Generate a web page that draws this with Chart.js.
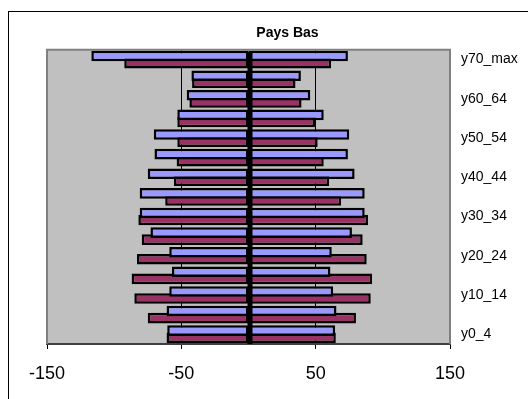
<!DOCTYPE html>
<html>
<head>
<meta charset="utf-8">
<script src="https://cdn.jsdelivr.net/npm/chart.js@4/dist/chart.umd.min.js"></script>
<style>
    html, body { margin: 0; padding: 0; background: #fff; overflow: hidden; }
    #frame { position: absolute; left: 8px; top: 11px; width: 540px; height: 400px; border: 1px solid #000; }
    #chart { position: absolute; left: 0; top: 0; }
</style>
</head>
<body>
<div id="frame"></div>
<canvas id="chart" width="528" height="399"></canvas>
<script>
    // --- Data (bottom to top: y0_4 ... y70_max) ---
    const ageGroups = ['y0_4', 'y5_9', 'y10_14', 'y15_19', 'y20_24', 'y25_29', 'y30_34', 'y35_39',
        'y40_44', 'y45_49', 'y50_54', 'y55_59', 'y60_64', 'y65_69', 'y70_max'];
    const blueLeft = [-60.5, -61, -59, -57, -59, -73, -81, -81, -75, -70, -70.5, -53, -46, -42.5, -117];
    const blueRight = [64.5, 65.5, 63, 61, 62, 77, 86.5, 86.5, 79, 74, 75, 56, 46, 39, 74];
    const maroonLeft = [-61, -75, -85, -87, -83, -79.5, -82, -62, -55.5, -53.5, -53, -53, -44, -42, -92.5];
    const maroonRight = [65, 80, 91, 92, 88, 85, 89, 69, 60, 56, 51.5, 49.5, 39.5, 35, 61.5];
    const xTicks = [-150, -50, 50, 150];

    const BLUE = '#9999FF';
    const MAROON = '#993366';

    // plot area background + frame, and the black line where the bars meet at 0
    const plotFrame = {
        id: 'plotFrame',
        beforeDraw(chart) {
            const { ctx, chartArea: a } = chart;
            ctx.save();
            ctx.fillStyle = '#C0C0C0';
            ctx.fillRect(a.left, a.top, a.right - a.left, a.bottom - a.top);
            ctx.restore();
        },
        afterDatasetsDraw(chart) {
            const { ctx, chartArea: a } = chart;
            const x0 = chart.scales.x.getPixelForValue(0);
            ctx.save();
            ctx.strokeStyle = '#000';
            ctx.lineWidth = 5;
            ctx.beginPath();
            ctx.moveTo(x0 + 1.5, a.top + 2);
            ctx.lineTo(x0 + 1.5, a.bottom);
            ctx.stroke();
            ctx.restore();
        },
        afterDraw(chart) {
            const { ctx, chartArea: a } = chart;
            ctx.save();
            ctx.strokeStyle = '#808080';
            ctx.lineWidth = 2;
            ctx.beginPath();
            ctx.moveTo(a.left, a.bottom);
            ctx.lineTo(a.left, a.top);
            ctx.lineTo(a.right, a.top);
            ctx.lineTo(a.right, a.bottom);
            ctx.stroke();
            ctx.restore();
        }
    };

    const barStyle = {
        borderColor: '#000',
        borderWidth: 2.5,
        borderSkipped: false,
        categoryPercentage: 0.72,
        barPercentage: 1.5
    };

    new Chart(document.getElementById('chart'), {
        type: 'bar',
        data: {
            labels: ageGroups,
            datasets: [
                { data: blueLeft, backgroundColor: BLUE, stack: 'a', ...barStyle },
                { data: blueRight, backgroundColor: BLUE, stack: 'a', ...barStyle },
                { data: maroonLeft, backgroundColor: MAROON, stack: 'b', ...barStyle },
                { data: maroonRight, backgroundColor: MAROON, stack: 'b', ...barStyle },
            ]
        },
        plugins: [plotFrame],
        options: {
            indexAxis: 'y',
            responsive: false,
            animation: false,
            layout: { padding: { left: 47, right: 0, top: 15, bottom: 0 } },
            plugins: {
                legend: { display: false },
                tooltip: { enabled: false },
                title: {
                    display: true,
                    text: 'Pays Bas',
                    color: '#000',
                    font: { family: 'Arial, "Liberation Sans"', size: 14, weight: 'bold' },
                    padding: { top: 10, bottom: 8 }
                }
            },
            scales: {
                x: {
                    stacked: true,
                    min: -150,
                    max: 150,
                    afterBuildTicks: (axis) => { axis.ticks = xTicks.map(v => ({ value: v })); },
                    afterFit: (axis) => { axis.height = 55; },
                    grid: {
                        color: (c) => (Math.abs(c.tick.value) === 150 ? '#808080' : '#000'),
                        tickColor: '#000',
                        tickLength: 5,
                        lineWidth: 1
                    },
                    border: { display: true, color: '#404040', width: 2 },
                    ticks: {
                        color: '#000',
                        padding: 14,
                        maxRotation: 0,
                        font: { family: 'Arial, "Liberation Sans"', size: 18 }
                    }
                },
                y: {
                    stacked: true,
                    position: 'right',
                    reverse: true,
                    afterFit: (axis) => { axis.width = 78; },
                    grid: { display: false, drawTicks: false },
                    border: { display: false },
                    ticks: {
                        autoSkip: false,
                        color: '#000',
                        padding: 11,
                        font: { family: 'Arial, "Liberation Sans"', size: 14 },
                        callback: (v, i) => (i % 2 === 0 ? ageGroups[i] : '')
                    }
                }
            }
        }
    });
</script>
</body>
</html>
